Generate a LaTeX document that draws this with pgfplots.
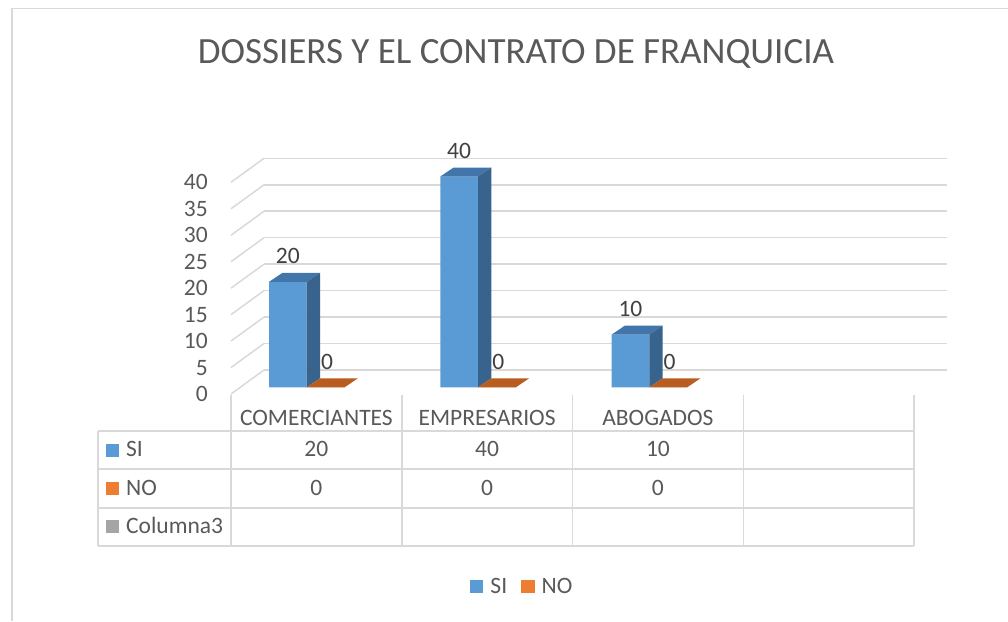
\documentclass[border=0pt]{standalone}
\usepackage{pgfplots}
\usepackage{pgfplotstable}
\pgfplotsset{compat=1.18}
\usepackage{fontspec}
\setmainfont{Carlito}
\definecolor{siblue}{HTML}{5B9BD5}
\definecolor{sitop}{HTML}{4276AA}
\definecolor{siside}{HTML}{38638C}
\definecolor{noorange}{HTML}{ED7D31}
\definecolor{notop}{HTML}{B85C20}
\definecolor{noside}{HTML}{A8521B}
\definecolor{gridgray}{HTML}{D9D9D9}
\definecolor{txt}{HTML}{595959}
\definecolor{lbl}{HTML}{404040}
\definecolor{cgray}{HTML}{A5A5A5}
\newcommand\fs{\fontsize{23.5}{28}\selectfont}
\pgfplotsset{/pgf/number format/assume math mode=true}

% 3D top and side faces of a column, drawn as a plot mark at (category, value)
\pgfdeclareplotmark{boxSI}{%
  \pgfmathsetmacro\bh{-\barval*5.27}%
  \pgfmathsetmacro\bhd{9-\barval*5.27}%
  \pgfsetfillcolor{sitop}%
  \pgfpathmoveto{\pgfpoint{-37.7pt}{0pt}}%
  \pgfpathlineto{\pgfpoint{0pt}{0pt}}%
  \pgfpathlineto{\pgfpoint{13.3pt}{9pt}}%
  \pgfpathlineto{\pgfpoint{-24.4pt}{9pt}}%
  \pgfpathclose
  \pgfusepath{fill}%
  \pgfsetfillcolor{siside}%
  \pgfpathmoveto{\pgfpoint{0pt}{0pt}}%
  \pgfpathlineto{\pgfpoint{13.3pt}{9pt}}%
  \pgfpathlineto{\pgfpoint{13.3pt}{\bhd pt}}%
  \pgfpathlineto{\pgfpoint{0pt}{\bh pt}}%
  \pgfpathclose
  \pgfusepath{fill}%
}
\pgfdeclareplotmark{boxNO}{%
  \pgfmathsetmacro\bh{-\barval*5.27}%
  \pgfmathsetmacro\bhd{9-\barval*5.27}%
  \pgfsetfillcolor{notop}%
  \pgfpathmoveto{\pgfpoint{0pt}{0pt}}%
  \pgfpathlineto{\pgfpoint{37.7pt}{0pt}}%
  \pgfpathlineto{\pgfpoint{51pt}{9pt}}%
  \pgfpathlineto{\pgfpoint{13.3pt}{9pt}}%
  \pgfpathclose
  \pgfusepath{fill}%
  \pgfsetfillcolor{noside}%
  \pgfpathmoveto{\pgfpoint{37.7pt}{0pt}}%
  \pgfpathlineto{\pgfpoint{51pt}{9pt}}%
  \pgfpathlineto{\pgfpoint{51pt}{\bhd pt}}%
  \pgfpathlineto{\pgfpoint{37.7pt}{\bh pt}}%
  \pgfpathclose
  \pgfusepath{fill}%
}

\pgfplotstableread{
x SI NO
0 20 0
1 40 0
2 10 0
}\datatable

\begin{document}
\begin{tikzpicture}
\useasboundingbox (0pt,0pt) rectangle (1008pt,-621pt);
\draw[gridgray, line width=1.5pt] (11.8pt,-621pt) -- (11.8pt,-8.6pt) -- (1008pt,-8.6pt);

\node[anchor=base, font=\fontsize{37}{44}\selectfont, text=txt] at (516pt,-63.3pt) {DOSSIERS Y EL CONTRATO DE FRANQUICIA};

% back wall with gridlines and value axis
\begin{axis}[
  at={(264pt,-370pt)}, anchor=south west,
  x=683pt, y=5.2925pt, xmin=0, xmax=1, ymin=0, ymax=40,
  axis line style={draw=none}, xtick=\empty, ytick={0,5,...,40},
  major tick length=0pt, ymajorgrids, grid style={gridgray, line width=1.5pt},
  yticklabel style={font=\fs, text=txt, anchor=east, inner sep=0pt, xshift=-56pt, yshift=-24pt},
  clip=false,
]
\pgfplotsinvokeforeach{0,5,...,40}{\draw[gridgray, line width=1.5pt] (axis cs:0,#1) -- ++(-33pt,-24pt);}
\end{axis}

% columns
\begin{axis}[
  at={(221.05pt,-387.3pt)}, anchor=south west,
  x=171.3pt, y=5.27pt, xmin=-0.5, xmax=3.5, ymin=0, ymax=45,
  hide axis, clip=false,
  nodes near coords style={font=\fs, text=lbl, anchor=center, yshift=25.5pt},
  legend columns=2,
  legend style={at={(0.4395,-0.841)}, anchor=center, draw=none, fill=none,
    font=\fs, text=txt,
    /tikz/every odd column/.append style={column sep=5pt},
    /tikz/every even column/.append style={column sep=12pt}},
]
\addplot[only marks, mark=boxSI, forget plot,
  visualization depends on={\thisrow{SI} \as \barval}]
  table[x=x, y=SI] {\datatable};
\addplot[only marks, mark=boxNO, forget plot,
  visualization depends on={\thisrow{NO} \as \barval}]
  table[x=x, y=NO] {\datatable};
\addplot[ybar, bar width=37.7pt, bar shift=-18.85pt, fill=siblue, draw=none,
  nodes near coords, every node near coord/.append style={xshift=-18.85pt},
  legend image code/.code={\fill[siblue] (0pt,-6.5pt) rectangle (13.5pt,7pt);}]
  table[x=x, y=SI] {\datatable};
\addlegendentry{SI}
\addplot[ybar, bar width=37.7pt, bar shift=18.85pt, fill=noorange, draw=none,
  nodes near coords, every node near coord/.append style={xshift=20.3pt},
  legend image code/.code={\fill[noorange] (0pt,-6.5pt) rectangle (13.5pt,7pt);}]
  table[x=x, y=NO] {\datatable};
\addlegendentry{NO}
\end{axis}

% data table
\begin{scope}[gridgray, line width=1.5pt]
  \foreach \yy in {431,469,508,546} \draw (98pt,-\yy pt) -- (914pt,-\yy pt);
  \draw (98pt,-431pt) -- (98pt,-546pt);
  \foreach \xx in {231,401.75,572.5,743.25,914} \draw (\xx pt,-395pt) -- (\xx pt,-546pt);
\end{scope}
\begin{scope}[every node/.style={font=\fs, text=txt, inner sep=0pt}]
  \node[anchor=base] at (316.4pt,-425.5pt) {COMERCIANTES};
  \node[anchor=base] at (487.1pt,-425.5pt) {EMPRESARIOS};
  \node[anchor=base] at (657.9pt,-425.5pt) {ABOGADOS};
  \node[anchor=base] at (316.4pt,-456.7pt) {20};
  \node[anchor=base] at (487.1pt,-456.7pt) {40};
  \node[anchor=base] at (657.9pt,-456.7pt) {10};
  \node[anchor=base] at (316.4pt,-495.3pt) {0};
  \node[anchor=base] at (487.1pt,-495.3pt) {0};
  \node[anchor=base] at (657.9pt,-495.3pt) {0};
  \fill[siblue] (106pt,-456.5pt) rectangle (119pt,-443.5pt);
  \fill[noorange] (106pt,-495pt) rectangle (119pt,-482pt);
  \fill[cgray] (106pt,-533pt) rectangle (119pt,-520pt);
  \node[anchor=base west] at (126pt,-456.7pt) {SI};
  \node[anchor=base west] at (126pt,-495.3pt) {NO};
  \node[anchor=base west] at (126pt,-533.3pt) {Columna3};
\end{scope}
\end{tikzpicture}
\end{document}
